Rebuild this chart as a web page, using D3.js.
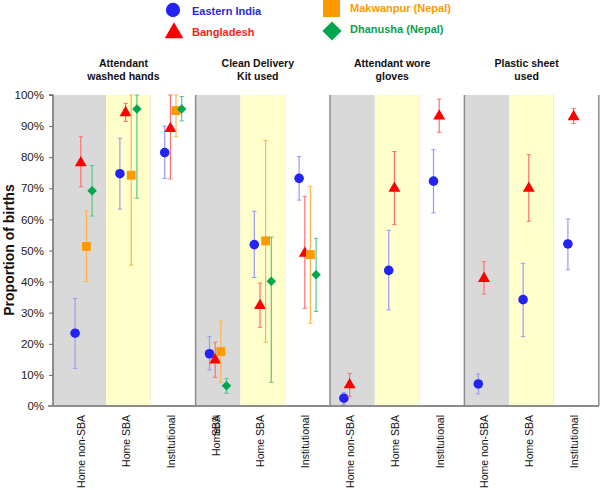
<!DOCTYPE html>
<html>
<head>
<meta charset="utf-8">
<script src="https://cdn.jsdelivr.net/npm/d3@7/dist/d3.min.js"></script>
<style>
  body { margin: 0; background: #fff; }
  svg { display: block; font-family: "Liberation Sans", Arial, sans-serif; }
</style>
</head>
<body>
<svg id="chart" width="600" height="490"></svg>
<script>
// ---------- DATA ----------
const categories = ["Home non-SBA","Home SBA","Institutional",
                    "Home non-SBA","Home SBA","Institutional",
                    "Home non-SBA","Home SBA","Institutional",
                    "Home non-SBA","Home SBA","Institutional"];
const panelTitles = [["Attendant","washed hands"],["Clean Delivery","Kit used"],
                     ["Attendant wore","gloves"],["Plastic sheet","used"]];
const yTicks = [0,10,20,30,40,50,60,70,80,90,100];

const easternIndia     = [23.4, 74.7, 81.5, 16.8, 51.9, 73.2, 2.5, 43.6, 72.3, 7.1, 34.2, 52.1];
const easternIndiaLow  = [12.1, 63.3, 73.2, 11.6, 41.3, 66.2, 0.5, 30.9, 62.1, 3.9, 22.3, 43.8];
const easternIndiaHigh = [34.6, 86.1, 90.0, 22.3, 62.6, 80.2, 4.3, 56.5, 82.4, 10.3, 45.9, 60.1];

const bangladesh     = [78.2, 94.3, 89.2, 14.8, 32.3, 49.1, 6.8, 70.0, 93.2, 41.0, 70.0, 93.0];
const bangladeshLow  = [70.5, 91.5, 73.0, 9.2, 25.3, 31.4, 3.0, 58.3, 88.0, 36.0, 59.4, 90.8];
const bangladeshHigh = [86.6, 97.3, 100, 20.5, 39.5, 67.4, 10.5, 81.8, 98.7, 46.4, 80.8, 95.7];

const makwanpur     = [51.3, 74.2, 95.0, 17.5, 53.1, 48.7, null, null, null, null, null, null];
const makwanpurLow  = [40.0, 45.3, 86.6, 7.6, 20.5, 26.6, null, null, null, null, null, null];
const makwanpurHigh = [62.7, 100, 100, 27.3, 85.4, 70.6, null, null, null, null, null, null];

const dhanusha     = [69.2, 95.5, 95.5, 6.5, 40.1, 42.2, null, null, null, null, null, null];
const dhanushaLow  = [61.1, 66.8, 91.7, 4.1, 7.6, 30.4, null, null, null, null, null, null];
const dhanushaHigh = [77.3, 100, 99.5, 8.9, 54.3, 53.9, null, null, null, null, null, null];

const seriesNames = ["Eastern India","Bangladesh","Makwanpur (Nepal)","Dhanusha (Nepal)"];

// ---------- STYLE ----------
const series = [
  {name: seriesNames[0], v: easternIndia, lo: easternIndiaLow, hi: easternIndiaHigh, color: "#2323f5", err: "#9a9af5", text: "#2a2ae0", shape: d3.symbolCircle, rot: 0, size: 72, lsize: 160, off: -8.5},
  {name: seriesNames[1], v: bangladesh, lo: bangladeshLow, hi: bangladeshHigh, color: "#ff0000", err: "#ff7070", text: "#ff1a1a", shape: d3.symbolTriangle, rot: 0, size: 62, lsize: 150, off: -2.8},
  {name: seriesNames[2], v: makwanpur, lo: makwanpurLow, hi: makwanpurHigh, color: "#ff9900", err: "#ffb450", text: "#ff9a00", shape: d3.symbolSquare, rot: 0, size: 78, lsize: 289, off: 2.8},
  {name: seriesNames[3], v: dhanusha, lo: dhanushaLow, hi: dhanushaHigh, color: "#00a64f", err: "#5cc488", text: "#0aa050", shape: d3.symbolSquare, rot: 45, size: 46, lsize: 185, off: 8.5}
];

const svg = d3.select("#chart");
const axisX = 53, plotTop = 95, plotBottom = 406, plotRight = 599;
const x = d3.scaleLinear().domain([-0.5, 11.5]).range([61.2, 598.8]);
const y = d3.scaleLinear().domain([0, 100]).range([plotBottom, plotTop]);
const bandFill = ["#d9d9d9", "#ffffcc", "#ffffff"];

// backgrounds
const bg = svg.append("g");
categories.forEach((c, i) => {
  const x0 = i === 0 ? axisX : x(i - 0.5);
  const x1 = x(i + 0.5);
  bg.append("rect").attr("x", x0).attr("y", plotTop).attr("width", x1 - x0).attr("height", plotBottom - plotTop)
    .attr("fill", bandFill[i % 3]);
  if (i % 3 === 1) {
    bg.append("line").attr("x1", x1).attr("x2", x1).attr("y1", plotTop).attr("y2", plotBottom)
      .attr("stroke", "#c8c8c8").attr("stroke-width", 1).attr("stroke-dasharray", "1,1");
  }
});
// panel separators
[2, 5, 8, 11].forEach(i => {
  bg.append("line").attr("x1", x(i + 0.5)).attr("x2", x(i + 0.5)).attr("y1", plotTop).attr("y2", plotBottom)
    .attr("stroke", "#8c8c8c").attr("stroke-width", 1.5);
});

// y axis
const yAxis = d3.axisLeft(y).tickValues(yTicks).tickSize(4).tickPadding(5).tickFormat(d => d + "%");
const ya = svg.append("g").attr("transform", `translate(${axisX},0)`).call(yAxis);
ya.select(".domain").attr("stroke", "#6e6e6e").attr("stroke-width", 1.5).attr("d", `M-4,${plotTop}H0V${plotBottom}`);
ya.selectAll(".tick line").attr("stroke", "#6e6e6e");
ya.selectAll(".tick text").attr("font-size", 11.5).attr("fill", "#222").attr("font-family", "Liberation Sans, Arial, sans-serif");
// bottom axis line
svg.append("line").attr("x1", axisX - 5).attr("x2", plotRight).attr("y1", plotBottom).attr("y2", plotBottom)
  .attr("stroke", "#8c8c8c").attr("stroke-width", 2);

// y label
svg.append("text").attr("transform", "translate(14,250) rotate(-90)").attr("text-anchor", "middle")
  .attr("font-size", 14).attr("font-weight", "bold").attr("fill", "#111").text("Proportion of births");

// panel titles
panelTitles.forEach((t, p) => {
  const cx = x(p * 3 + 1) - 5;
  const g = svg.append("text").attr("text-anchor", "middle").attr("font-size", 10.5)
    .attr("font-weight", "bold").attr("fill", "#111");
  g.append("tspan").attr("x", cx).attr("y", 67).text(t[0]);
  g.append("tspan").attr("x", cx).attr("y", 80).text(t[1]);
});

// x labels
const lblTop = 415, lblSize = 10.5;
categories.forEach((c, i) => {
  const cx = x(i) - 2;
  if (i === 3) {
    svg.append("text").attr("transform", `translate(${cx},${lblTop + 13}) rotate(-90)`).attr("text-anchor", "end")
      .attr("dy", "0.35em").attr("font-size", lblSize).attr("fill", "#111").text("Home");
    svg.append("text").attr("transform", `translate(${cx},${lblTop}) rotate(-90)`).attr("text-anchor", "end")
      .attr("dy", "0.35em").attr("font-size", lblSize).attr("fill", "#111").text("SBA");
    svg.append("text").attr("transform", `translate(${cx},${lblTop}) rotate(-90)`).attr("text-anchor", "end")
      .attr("dy", "0.35em").attr("font-size", lblSize).attr("fill", "#111").attr("textLength", 14)
      .attr("lengthAdjust", "spacingAndGlyphs").text("non-SBA");
  } else {
    svg.append("text").attr("transform", `translate(${cx},${lblTop}) rotate(-90)`).attr("text-anchor", "end")
      .attr("dy", "0.35em").attr("font-size", lblSize).attr("fill", "#111").text(c);
  }
});

// error bars & markers
series.forEach(s => {
  const g = svg.append("g");
  s.v.forEach((v, i) => {
    if (v == null) return;
    const px = x(i) + s.off;
    g.append("line").attr("x1", px).attr("x2", px).attr("y1", y(s.lo[i])).attr("y2", y(s.hi[i]))
      .attr("stroke", s.err).attr("stroke-width", 1.2);
    [s.lo[i], s.hi[i]].forEach(e => {
      g.append("line").attr("x1", px - 2.2).attr("x2", px + 2.2).attr("y1", y(e)).attr("y2", y(e))
        .attr("stroke", s.err).attr("stroke-width", 1);
    });
  });
  s.v.forEach((v, i) => {
    if (v == null) return;
    const px = x(i) + s.off;
    g.append("path").attr("d", d3.symbol().type(s.shape).size(s.size)())
      .attr("transform", `translate(${px},${y(v)}) rotate(${s.rot})`).attr("fill", s.color);
  });
});

// legend
const legendPos = [
  {sx: 173, sy: 10, tx: 192, ty: 11},
  {sx: 174, sy: 33, tx: 192, ty: 32},
  {sx: 331.5, sy: 8.5, tx: 350, ty: 8},
  {sx: 332, sy: 31, tx: 350, ty: 29}
];
series.forEach((s, k) => {
  const L = legendPos[k];
  svg.append("path").attr("d", d3.symbol().type(s.shape).size(s.lsize)())
    .attr("transform", `translate(${L.sx},${L.sy}) rotate(${s.rot})`).attr("fill", s.color);
  svg.append("text").attr("x", L.tx).attr("y", L.ty).attr("dy", "0.35em").attr("font-size", 11)
    .attr("font-weight", "bold").attr("fill", s.text).text(s.name);
});
</script>
</body>
</html>
